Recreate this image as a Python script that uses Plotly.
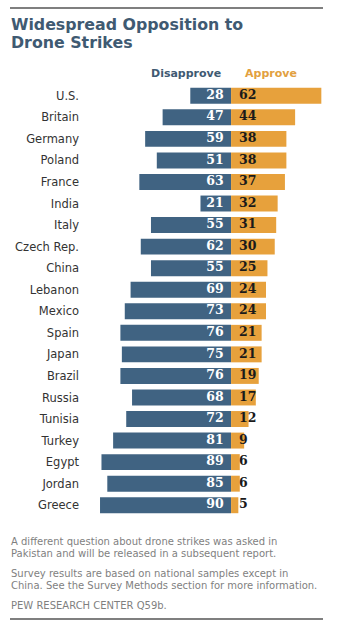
import plotly.graph_objects as go

countries = ["U.S.", "Britain", "Germany", "Poland", "France", "India", "Italy",
             "Czech Rep.", "China", "Lebanon", "Mexico", "Spain", "Japan", "Brazil",
             "Russia", "Tunisia", "Turkey", "Egypt", "Jordan", "Greece"]
disapprove = [28, 47, 59, 51, 63, 21, 55, 62, 55, 69, 73, 76, 75, 76, 68, 72, 81, 89, 85, 90]
approve = [62, 44, 38, 38, 37, 32, 31, 30, 25, 24, 24, 21, 21, 19, 17, 12, 9, 6, 6, 5]

BLUE = "#406382"
ORANGE = "#e7a13c"
W, H = 357, 627
ML, MR, MT, MB = 84, 0, 85, 111
PW = W - ML - MR
PH = H - MT - MB


def px(x):
    return (x - ML) / PW


def py(y):
    return (H - MB - y) / PH


fig = go.Figure()
fig.add_trace(go.Bar(y=countries, x=[-v for v in disapprove], orientation="h",
                     marker=dict(color=BLUE, line_width=0), hoverinfo="skip"))
fig.add_trace(go.Bar(y=countries, x=approve, orientation="h",
                     marker=dict(color=ORANGE, line_width=0), hoverinfo="skip"))
fig.add_trace(go.Scatter(y=countries, x=[-5] * len(countries), mode="text",
                         text=[str(v) for v in disapprove], textposition="middle left",
                         textfont=dict(family="DejaVu Serif", size=12.5, color="white", weight="bold"),
                         hoverinfo="skip"))
fig.add_trace(go.Scatter(y=countries, x=[5.5] * len(countries), mode="text",
                         text=[str(v) for v in approve], textposition="middle right",
                         textfont=dict(family="DejaVu Serif", size=12.5, color="#1a1a1a", weight="bold"),
                         hoverinfo="skip"))

fig.update_layout(
    width=W, height=H,
    margin=dict(l=ML, r=MR, t=MT, b=MB),
    barmode="relative", bargap=0.26,
    showlegend=False,
    plot_bgcolor="white", paper_bgcolor="white",
    font=dict(family="DejaVu Sans", color="#333333"),
    xaxis=dict(range=[-101, 86.5], visible=False, fixedrange=True),
    yaxis=dict(categoryorder="array", categoryarray=countries,
               range=[len(countries) - 0.5, -0.5], autorange=False,
               showgrid=False, zeroline=False, showline=False, ticks="",
               tickfont=dict(family="DejaVu Sans", size=11.5, color="#333333"),
               ticklabelstandoff=4, fixedrange=True),
)

FOOT = dict(size=10, color="#7f7f7f")
anns = [
    dict(text="Widespread Opposition to", x=px(9), y=py(36), yanchor="bottom",
         font=dict(size=15.8, color="#3f5a72", weight="bold")),
    dict(text="Drone Strikes", x=px(9), y=py(54), yanchor="bottom",
         font=dict(size=15.8, color="#3f5a72", weight="bold")),
    dict(text="Disapprove", x=px(223), y=py(73), xanchor="right", yanchor="middle",
         font=dict(size=11, color="#3f5a72", weight="bold")),
    dict(text="Approve", x=px(243), y=py(73), xanchor="left", yanchor="middle",
         font=dict(size=11, color="#e2a040", weight="bold")),
    dict(text="A different question about drone strikes was asked in", x=px(8.5), y=py(541.5),
         yanchor="middle", font=FOOT),
    dict(text="Pakistan and will be released in a subsequent report.", x=px(8.5), y=py(553.3),
         yanchor="middle", font=FOOT),
    dict(text="Survey results are based on national samples except in", x=px(8.5), y=py(573.3),
         yanchor="middle", font=FOOT),
    dict(text="China. See the Survey Methods section for more information.", x=px(8.5), y=py(585.3),
         yanchor="middle", font=FOOT),
    dict(text="PEW RESEARCH CENTER Q59b.", x=px(8.5), y=py(605),
         yanchor="middle", font=FOOT),
]
for a in anns:
    a.setdefault("xanchor", "left")
    fig.add_annotation(xref="paper", yref="paper", showarrow=False, **a)

for yy in (8, 619):
    fig.add_shape(type="line", xref="paper", yref="paper", x0=px(10), x1=px(323),
                  y0=py(yy), y1=py(yy), line=dict(color="#555555", width=1.5))

fig.write_html("out.html", config={"displayModeBar": False},
               post_script="document.body.style.margin='0';")
